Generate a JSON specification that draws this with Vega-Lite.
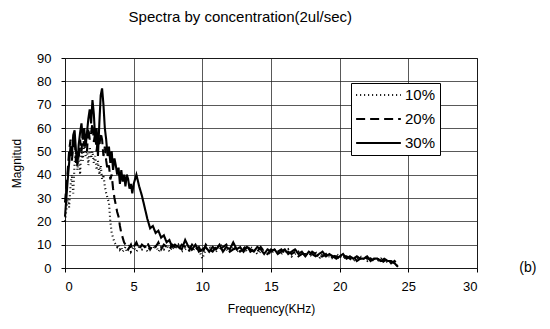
{
  "$schema": "https://vega.github.io/schema/vega-lite/v6.json",
  "width": 412,
  "height": 210,
  "autosize": {"type": "pad"},
  "padding": {"left": 10, "top": 10, "right": 5, "bottom": 5},
  "config": {
    "font": "Liberation Sans",
    "view": {"stroke": "black", "strokeWidth": 1},
    "axis": {
      "domain": false,
      "grid": true,
      "gridColor": "#222",
      "gridOpacity": 0.75,
      "gridWidth": 1,
      "tickColor": "black",
      "tickSize": 4,
      "labelColor": "black",
      "labelFontSize": 13,
      "labelFont": "Liberation Sans",
      "labelOverlap": false,
      "titleFont": "Liberation Sans",
      "titleFontWeight": "normal",
      "titleColor": "black",
      "titleFontSize": 12
    }
  },
  "title": {
    "text": "Spectra by concentration(2ul/sec)",
    "fontSize": 15,
    "fontWeight": "normal",
    "font": "Liberation Sans",
    "color": "black",
    "anchor": "start",
    "dx": 118,
    "offset": 27
  },
  "encoding": {
    "x": {
      "field": "f",
      "type": "quantitative",
      "scale": {"domain": [0, 30], "nice": false},
      "axis": {"values": [0, 5, 10, 15, 20, 25, 30], "title": "Frequency(KHz)", "labelPadding": 8, "titlePadding": 10}
    },
    "y": {
      "field": "m",
      "type": "quantitative",
      "scale": {"domain": [0, 90], "nice": false},
      "axis": {"values": [0, 10, 20, 30, 40, 50, 60, 70, 80, 90], "title": "Magnitud", "labelPadding": 10, "titlePadding": 13}
    }
  },
  "layer": [
    {
      "data": {
        "values": [
          {"f": 0.0, "10%": 20, "20%": 28, "30%": 22},
          {"f": 0.1, "10%": 25, "20%": 35, "30%": 30},
          {"f": 0.2, "10%": 30, "20%": 42, "30%": 38},
          {"f": 0.3, "10%": 26, "20%": 50, "30%": 45},
          {"f": 0.4, "10%": 35, "20%": 55, "30%": 52},
          {"f": 0.5, "10%": 40, "20%": 46, "30%": 48},
          {"f": 0.6, "10%": 32, "20%": 52, "30%": 57},
          {"f": 0.7, "10%": 45, "20%": 56, "30%": 59},
          {"f": 0.8, "10%": 50, "20%": 45, "30%": 50},
          {"f": 0.9, "10%": 42, "20%": 50, "30%": 44},
          {"f": 1.0, "10%": 48, "20%": 47, "30%": 53},
          {"f": 1.1, "10%": 40, "20%": 55, "30%": 58},
          {"f": 1.2, "10%": 52, "20%": 50, "30%": 62},
          {"f": 1.3, "10%": 46, "20%": 58, "30%": 55},
          {"f": 1.4, "10%": 54, "20%": 52, "30%": 60},
          {"f": 1.5, "10%": 48, "20%": 56, "30%": 52},
          {"f": 1.6, "10%": 50, "20%": 50, "30%": 58},
          {"f": 1.7, "10%": 44, "20%": 60, "30%": 64},
          {"f": 1.8, "10%": 52, "20%": 55, "30%": 68},
          {"f": 1.9, "10%": 47, "20%": 58, "30%": 62},
          {"f": 2.0, "10%": 50, "20%": 62, "30%": 72},
          {"f": 2.1, "10%": 45, "20%": 54, "30%": 66},
          {"f": 2.2, "10%": 48, "20%": 58, "30%": 55},
          {"f": 2.3, "10%": 42, "20%": 50, "30%": 60},
          {"f": 2.4, "10%": 46, "20%": 56, "30%": 48},
          {"f": 2.5, "10%": 40, "20%": 52, "30%": 62},
          {"f": 2.6, "10%": 44, "20%": 58, "30%": 74},
          {"f": 2.7, "10%": 38, "20%": 55, "30%": 77},
          {"f": 2.8, "10%": 40, "20%": 48, "30%": 70},
          {"f": 2.9, "10%": 35, "20%": 52, "30%": 60},
          {"f": 3.0, "10%": 32, "20%": 46, "30%": 55},
          {"f": 3.1, "10%": 30, "20%": 42, "30%": 48},
          {"f": 3.2, "10%": 28, "20%": 44, "30%": 52},
          {"f": 3.3, "10%": 20, "20%": 38, "30%": 45},
          {"f": 3.4, "10%": 15, "20%": 40, "30%": 50},
          {"f": 3.5, "10%": 13, "20%": 34, "30%": 42},
          {"f": 3.6, "10%": 11, "20%": 30, "30%": 47},
          {"f": 3.7, "10%": 10, "20%": 27, "30%": 44},
          {"f": 3.8, "10%": 9, "20%": 24, "30%": 40},
          {"f": 3.9, "10%": 10, "20%": 22, "30%": 43},
          {"f": 4.0, "10%": 8, "20%": 18, "30%": 36},
          {"f": 4.1, "10%": 9, "20%": 15, "30%": 42},
          {"f": 4.2, "10%": 7, "20%": 13, "30%": 37},
          {"f": 4.3, "10%": 8, "20%": 11, "30%": 40},
          {"f": 4.4, "10%": 9, "20%": 10, "30%": 35},
          {"f": 4.5, "10%": 7, "20%": 9, "30%": 40},
          {"f": 4.6, "10%": 8, "20%": 8, "30%": 38},
          {"f": 4.7, "10%": 10, "20%": 9, "30%": 34},
          {"f": 4.8, "10%": 7, "20%": 10, "30%": 36},
          {"f": 4.9, "10%": 8, "20%": 8, "30%": 32},
          {"f": 5.0, "10%": 9, "20%": 9, "30%": 36},
          {"f": 5.2, "10%": 7, "20%": 11, "30%": 40},
          {"f": 5.4, "10%": 9, "20%": 8, "30%": 35},
          {"f": 5.6, "10%": 8, "20%": 10, "30%": 31},
          {"f": 5.8, "10%": 10, "20%": 9, "30%": 26},
          {"f": 6.0, "10%": 7, "20%": 11, "30%": 21},
          {"f": 6.2, "10%": 9, "20%": 8, "30%": 17},
          {"f": 6.4, "10%": 8, "20%": 10, "30%": 18},
          {"f": 6.6, "10%": 10, "20%": 9, "30%": 15},
          {"f": 6.8, "10%": 7, "20%": 11, "30%": 16},
          {"f": 7.0, "10%": 9, "20%": 8, "30%": 13},
          {"f": 7.2, "10%": 8, "20%": 10, "30%": 14},
          {"f": 7.4, "10%": 10, "20%": 9, "30%": 11},
          {"f": 7.6, "10%": 7, "20%": 8, "30%": 12},
          {"f": 7.8, "10%": 9, "20%": 10, "30%": 9},
          {"f": 8.0, "10%": 8, "20%": 9, "30%": 10},
          {"f": 8.25, "10%": 10, "20%": 8, "30%": 9},
          {"f": 8.5, "10%": 7, "20%": 10, "30%": 8},
          {"f": 8.75, "10%": 8, "20%": 9, "30%": 12},
          {"f": 9.0, "10%": 10, "20%": 7, "30%": 9},
          {"f": 9.25, "10%": 7, "20%": 10, "30%": 8},
          {"f": 9.5, "10%": 9, "20%": 8, "30%": 10},
          {"f": 9.75, "10%": 8, "20%": 9, "30%": 7},
          {"f": 10.0, "10%": 4, "20%": 6, "30%": 8},
          {"f": 10.25, "10%": 8, "20%": 10, "30%": 9},
          {"f": 10.5, "10%": 9, "20%": 8, "30%": 7},
          {"f": 10.75, "10%": 8, "20%": 7, "30%": 9},
          {"f": 11.0, "10%": 7, "20%": 9, "30%": 8},
          {"f": 11.25, "10%": 9, "20%": 8, "30%": 10},
          {"f": 11.5, "10%": 10, "20%": 9, "30%": 7},
          {"f": 11.75, "10%": 8, "20%": 10, "30%": 9},
          {"f": 12.0, "10%": 7, "20%": 7, "30%": 8},
          {"f": 12.25, "10%": 9, "20%": 8, "30%": 11},
          {"f": 12.5, "10%": 7, "20%": 9, "30%": 8},
          {"f": 12.75, "10%": 8, "20%": 7, "30%": 9},
          {"f": 13.0, "10%": 9, "20%": 8, "30%": 7},
          {"f": 13.25, "10%": 7, "20%": 10, "30%": 9},
          {"f": 13.5, "10%": 9, "20%": 7, "30%": 8},
          {"f": 13.75, "10%": 8, "20%": 8, "30%": 7},
          {"f": 14.0, "10%": 6, "20%": 7, "30%": 9},
          {"f": 14.25, "10%": 7, "20%": 9, "30%": 8},
          {"f": 14.5, "10%": 8, "20%": 7, "30%": 6},
          {"f": 14.75, "10%": 7, "20%": 6, "30%": 8},
          {"f": 15.0, "10%": 6, "20%": 8, "30%": 7},
          {"f": 15.25, "10%": 8, "20%": 7, "30%": 8},
          {"f": 15.5, "10%": 7, "20%": 7, "30%": 6},
          {"f": 15.75, "10%": 6, "20%": 8, "30%": 7},
          {"f": 16.0, "10%": 7, "20%": 6, "30%": 8},
          {"f": 16.25, "10%": 8, "20%": 7, "30%": 6},
          {"f": 16.5, "10%": 5, "20%": 6, "30%": 7},
          {"f": 16.75, "10%": 6, "20%": 7, "30%": 8},
          {"f": 17.0, "10%": 7, "20%": 5, "30%": 6},
          {"f": 17.25, "10%": 5, "20%": 6, "30%": 7},
          {"f": 17.5, "10%": 6, "20%": 6, "30%": 5},
          {"f": 17.75, "10%": 6, "20%": 5, "30%": 7},
          {"f": 18.0, "10%": 5, "20%": 7, "30%": 6},
          {"f": 18.25, "10%": 7, "20%": 6, "30%": 5},
          {"f": 18.5, "10%": 4, "20%": 5, "30%": 6},
          {"f": 18.75, "10%": 6, "20%": 5, "30%": 7},
          {"f": 19.0, "10%": 5, "20%": 6, "30%": 5},
          {"f": 19.25, "10%": 5, "20%": 4, "30%": 6},
          {"f": 19.5, "10%": 4, "20%": 5, "30%": 5},
          {"f": 19.75, "10%": 6, "20%": 5, "30%": 4},
          {"f": 20.0, "10%": 5, "20%": 4, "30%": 5},
          {"f": 20.25, "10%": 4, "20%": 5, "30%": 6},
          {"f": 20.5, "10%": 5, "20%": 5, "30%": 4},
          {"f": 20.75, "10%": 4, "20%": 4, "30%": 5},
          {"f": 21.0, "10%": 3, "20%": 5, "30%": 4},
          {"f": 21.25, "10%": 4, "20%": 3, "30%": 5},
          {"f": 21.5, "10%": 5, "20%": 4, "30%": 4},
          {"f": 21.75, "10%": 4, "20%": 5, "30%": 4},
          {"f": 22.0, "10%": 3, "20%": 4, "30%": 5},
          {"f": 22.25, "10%": 4, "20%": 4, "30%": 3},
          {"f": 22.5, "10%": 4, "20%": 3, "30%": 4},
          {"f": 22.75, "10%": 3, "20%": 4, "30%": 4},
          {"f": 23.0, "10%": 4, "20%": 3, "30%": 3},
          {"f": 23.25, "10%": 2, "20%": 3, "30%": 4},
          {"f": 23.5, "10%": 3, "20%": 4, "30%": 3},
          {"f": 23.75, "10%": 3, "20%": 2, "30%": 3},
          {"f": 24.0, "10%": 2, "20%": 3, "30%": 2},
          {"f": 24.25, "10%": 0.5, "20%": 1, "30%": 0.5}
        ]
      },
      "transform": [{"fold": ["10%", "20%", "30%"], "as": ["series", "m"]}],
      "mark": {"type": "line", "color": "black", "strokeWidth": 2.1},
      "encoding": {
        "strokeDash": {
          "field": "series",
          "type": "nominal",
          "scale": {"domain": ["10%", "20%", "30%"], "range": [[1, 3], [9, 5], [1, 0]]},
          "legend": {
            "title": null,
            "orient": "none",
            "legendX": 286,
            "legendY": 25,
            "fillColor": "white",
            "strokeColor": "black",
            "padding": 4,
            "symbolType": "stroke",
            "symbolSize": 2000,
            "symbolStrokeWidth": 1.8,
            "symbolStrokeColor": "black",
            "labelFontSize": 15,
            "labelColor": "black",
            "labelOffset": 3,
            "clipHeight": 16,
            "rowPadding": 8
          }
        }
      }
    },
    {
      "data": {"values": [{"f": 33.7, "m": 0, "t": "(b)"}]},
      "mark": {"type": "text", "fontSize": 14, "color": "black", "align": "center", "baseline": "middle", "font": "Liberation Sans"},
      "encoding": {
        "text": {"field": "t"}
      }
    }
  ]
}
